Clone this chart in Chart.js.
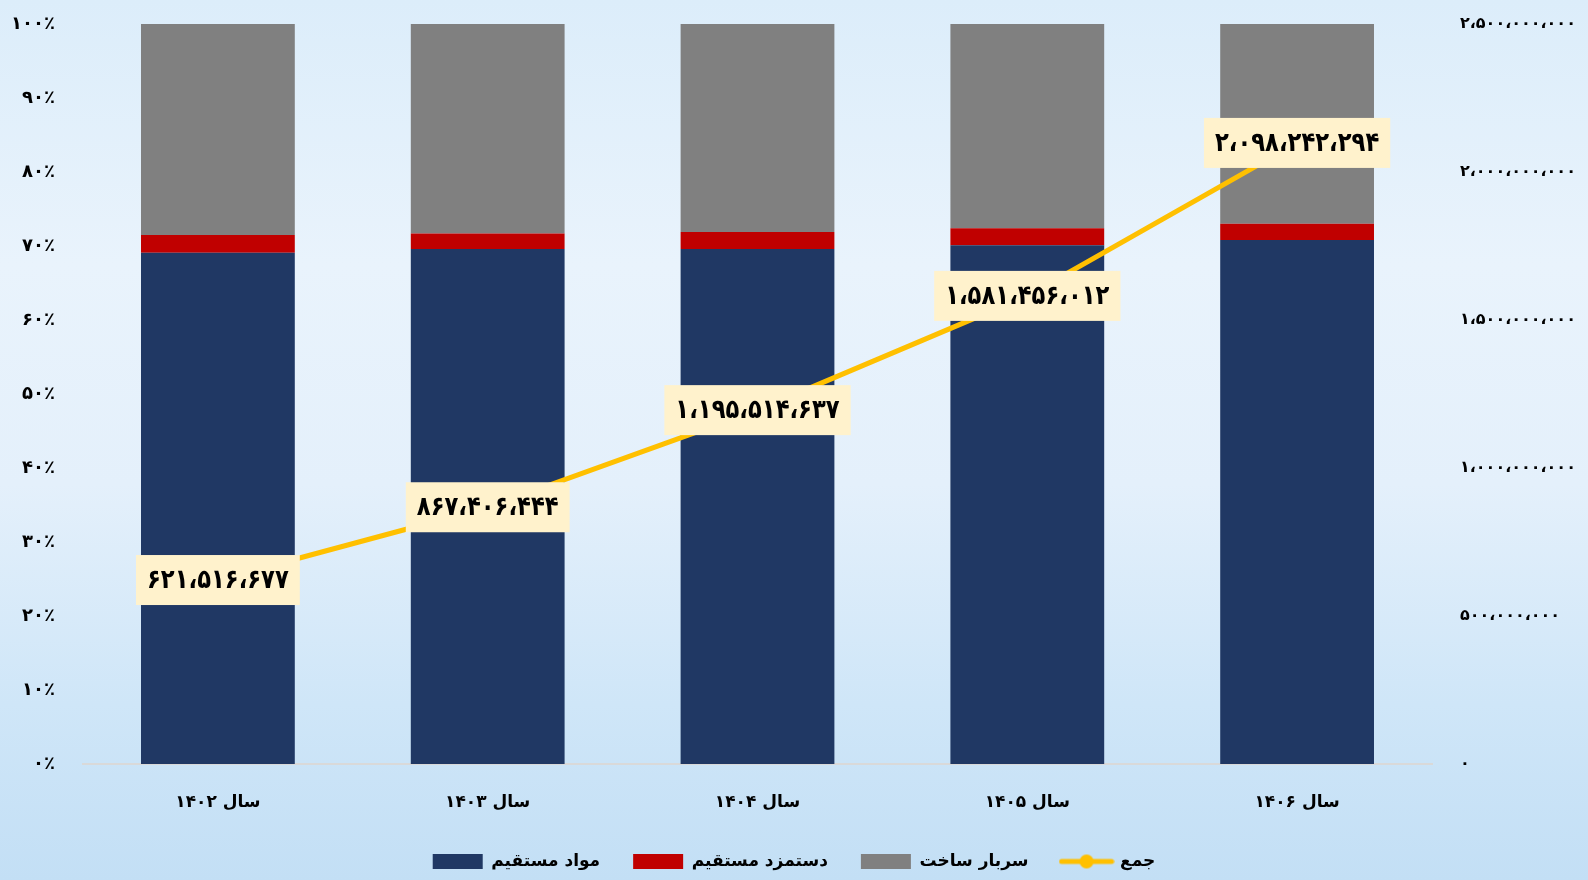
<!DOCTYPE html>
<html lang="fa">
<head>
<meta charset="utf-8">
<script src="https://cdn.jsdelivr.net/npm/chart.js@4.4.0/dist/chart.umd.min.js"></script>
<style>
  html, body { margin: 0; padding: 0; }
  body {
    width: 1588px; height: 880px; overflow: hidden;
    background: linear-gradient(to bottom, #dcedfa 0%, #e9f3fc 30%, #e4f0fb 55%, #cfe6f8 80%, #c3dff5 100%);
  }
  #wrap { position: relative; width: 1588px; height: 880px; }
</style>
</head>
<body>
<div id="wrap"><canvas id="chart"></canvas></div>
<script>
// داده‌ها
const years = ['سال ۱۴۰۲', 'سال ۱۴۰۳', 'سال ۱۴۰۴', 'سال ۱۴۰۵', 'سال ۱۴۰۶'];
const directMaterials = [69.1, 69.6, 69.6, 70.1, 70.8];   // مواد مستقیم (٪)
const directLabor = [2.4, 2.1, 2.3, 2.3, 2.2];            // دستمزد مستقیم (٪)
const overhead = [28.5, 28.3, 28.1, 27.6, 27.0];          // سربار ساخت (٪)
const totals = [621516677, 867406444, 1195514637, 1581456012, 2098242294]; // جمع

const seriesNames = ['مواد مستقیم', 'دستمزد مستقیم', 'سربار ساخت', 'جمع'];

const faDigits = '۰۱۲۳۴۵۶۷۸۹';
function toFa(s) {
    return String(s).replace(/\d/g, d => faDigits[d]);
}
function faNumber(n) {
    const grouped = String(Math.round(n)).replace(/\B(?=(\d{3})+(?!\d))/g, '،');
    return toFa(grouped);
}

// legend marker for the line series: a line with a dot
function lineMarker() {
    const c = document.createElement('canvas');
    c.width = 56; c.height = 16;
    const g = c.getContext('2d');
    g.strokeStyle = '#FFC000';
    g.lineWidth = 5;
    g.lineCap = 'round';
    g.beginPath(); g.moveTo(3, 8); g.lineTo(53, 8); g.stroke();
    g.fillStyle = '#FFC000';
    g.beginPath(); g.arc(28, 8, 7, 0, Math.PI * 2); g.fill();
    return c;
}

// value boxes on the line
const valueLabels = {
    id: 'valueLabels',
    afterDatasetsDraw(chart) {
        const ctx = chart.ctx;
        const meta = chart.getDatasetMeta(3);
        const squeeze = 0.84;
        ctx.save();
        ctx.font = 'bold 27px "DejaVu Sans"';
        ctx.textAlign = 'center';
        ctx.textBaseline = 'middle';
        meta.data.forEach((pt, i) => {
            const text = faNumber(totals[i]);
            const w = ctx.measureText(text).width * squeeze + 22;
            const h = 50;
            ctx.fillStyle = '#FFF2CC';
            ctx.fillRect(pt.x - w / 2, pt.y - h / 2, w, h);
            ctx.save();
            ctx.translate(pt.x, pt.y + 1);
            ctx.scale(squeeze, 1);
            ctx.fillStyle = '#000000';
            ctx.fillText(text, 0, 0);
            ctx.restore();
        });
        ctx.restore();
    }
};

const leftFont = { family: '"DejaVu Sans"', size: 18, weight: 'bold' };
const rightFont = { family: '"DejaVu Sans"', size: 16, weight: 'bold' };
const catFont = { family: '"DejaVu Sans"', size: 17, weight: 'bold' };

// keep the tick padding from pushing the plot area down
function trimPadding(scale) {
    scale.paddingTop = 12;
    scale.paddingBottom = 12;
}

new Chart(document.getElementById('chart'), {
    data: {
        labels: years,
        datasets: [
            {
                type: 'bar', label: seriesNames[0], data: directMaterials,
                backgroundColor: '#203864', yAxisID: 'y', order: 1,
                barPercentage: 0.57, categoryPercentage: 1
            },
            {
                type: 'bar', label: seriesNames[1], data: directLabor,
                backgroundColor: '#C00000', yAxisID: 'y', order: 1,
                barPercentage: 0.57, categoryPercentage: 1
            },
            {
                type: 'bar', label: seriesNames[2], data: overhead,
                backgroundColor: '#808080', yAxisID: 'y', order: 1,
                barPercentage: 0.57, categoryPercentage: 1
            },
            {
                type: 'line', label: seriesNames[3], data: totals,
                borderColor: '#FFC000', backgroundColor: '#FFC000',
                borderWidth: 5, pointRadius: 0, tension: 0,
                yAxisID: 'y1', order: 0
            }
        ]
    },
    options: {
        responsive: true,
        maintainAspectRatio: false,
        animation: false,
        layout: { padding: { top: 24, bottom: 0, left: 0, right: 0 } },
        plugins: {
            tooltip: { enabled: false },
            legend: {
                position: 'bottom',
                labels: {
                    color: '#000000',
                    font: { family: '"DejaVu Sans"', size: 17, weight: 'bold' },
                    usePointStyle: true,
                    pointStyleWidth: 50,
                    boxWidth: 50,
                    boxHeight: 15,
                    padding: 33,
                    sort: (a, b) => a.datasetIndex - b.datasetIndex,
                    generateLabels(chart) {
                        const items = Chart.defaults.plugins.legend.labels.generateLabels(chart);
                        items.forEach(it => {
                            if (it.datasetIndex === 3) {
                                it.pointStyle = lineMarker();
                            } else {
                                it.pointStyle = 'rect';
                                it.lineWidth = 0;
                            }
                        });
                        return items;
                    }
                }
            }
        },
        scales: {
            x: {
                stacked: true,
                grid: { display: false, drawTicks: false },
                border: { display: true, color: '#d9d9d9', width: 2 },
                ticks: { color: '#000000', font: catFont, padding: 28, maxRotation: 0 },
                afterFit(scale) { scale.height = 56; }
            },
            y: {
                stacked: true,
                position: 'left',
                min: 0, max: 100,
                grid: { display: false, drawTicks: false },
                border: { display: false },
                ticks: {
                    stepSize: 10,
                    color: '#000000', font: leftFont, padding: 28,
                    callback: v => toFa(v) + '٪'
                },
                afterFit(scale) { scale.width = 83; trimPadding(scale); }
            },
            y1: {
                position: 'right',
                min: 0, max: 2500000000,
                grid: { display: false, drawTicks: false },
                border: { display: false },
                ticks: {
                    stepSize: 500000000,
                    color: '#000000', font: rightFont, padding: 28,
                    callback: v => faNumber(v)
                },
                afterFit(scale) { scale.width = 156; trimPadding(scale); }
            }
        }
    },
    plugins: [valueLabels]
});
</script>
</body>
</html>
